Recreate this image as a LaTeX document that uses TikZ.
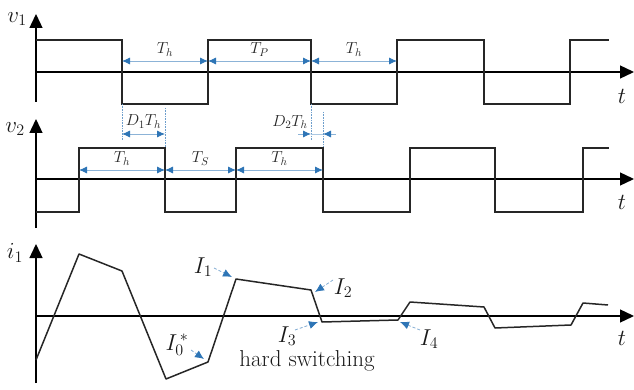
\documentclass[tikz,border=0pt]{standalone}
\usepackage{fix-cm}
\usepackage{amsmath,amssymb}
\usetikzlibrary{arrows.meta,positioning,calc}
\definecolor{dimblue}{RGB}{46,117,182}

\begin{document}
\begin{tikzpicture}[x=1pt,y=-1pt,>=Stealth,
  axis/.style={line width=1.3pt,-{Triangle[length=14pt,width=13pt]}},
  wave/.style={line width=1.5pt,black!85},
  dim/.style={dimblue!55,line width=0.8pt,{Latex[dimblue,length=8pt,width=7pt]}-{Latex[dimblue,length=8pt,width=7pt]}},
  tick/.style={dimblue!55,line width=0.8pt,-{Latex[dimblue,length=8pt,width=7pt]}},
  guide/.style={dimblue!70,densely dotted,line width=0.6pt},
  pointer/.style={dimblue!60,line width=0.8pt,densely dashed,-{Latex[dimblue,length=9pt,width=8pt]}},
  small/.style={text=black!85,font=\fontsize{16}{18}\selectfont},
  big/.style={text=black!90,font=\fontsize{23}{27}\selectfont}]
\useasboundingbox (0,0) rectangle (634,390);

% v1
\draw[axis] (36,102) -- (36,14);
\draw[axis] (36,72) -- (634,72);
\node[big] (v1) at (17,19) {$v_1$};
\node[big] (t1) at (622,96) {$t$};
\draw[wave] (36,40) -- (122,40) -- (122,104) -- (208,104) -- (208,40) -- (311,40) -- (311,104)
  -- (397,104) -- (397,40) -- (484,40) -- (484,104) -- (570,104) -- (570,40) -- (609,40);
\coordinate (a1) at (122,61);
\coordinate (a2) at (208,61);
\coordinate (a3) at (311,61);
\coordinate (a4) at (397,61);
\draw[dim] (a1) -- (a2) node[midway,above=1pt,small] (Th1) {$T_h$};
\draw[dim] (a2) -- (a3) node[midway,above=1pt,small] (Tp) {$T_P$};
\draw[dim] (a3) -- (a4) node[midway,above=1pt,small] (Th2) {$T_h$};

% phase shifts
\coordinate (d1) at (122,134);
\coordinate (d2) at (165,134);
\coordinate (e1) at (311,134);
\coordinate (e2) at (323,134);
\draw[guide] (122,104) -- ($(d1)+(0,6)$);
\draw[guide] (165,108) -- (165,148);
\draw[guide] (311,104) -- ($(e1)+(0,6)$);
\draw[guide] (323,112) -- (323,148);
\draw[dim] (d1) -- (d2) node[midway,above=2pt,small] (D1) {$D_1T_h$};
\draw[tick] ($(e1)+(-13,0)$) -- (e1);
\draw[tick] ($(e2)+(13,0)$) -- (e2);
\draw[dimblue!40,line width=0.5pt] (e1) -- (e2);
\node[small] (D2) at (290,122) {$D_2T_h$};

% v2
\draw[axis] (36,228) -- (36,119);
\draw[axis] (36,179) -- (634,179);
\node[big] (v2) at (15,129) {$v_2$};
\node[big] (t2) at (622,202) {$t$};
\draw[wave] (36,212) -- (79,212) -- (79,148) -- (165,148) -- (165,212) -- (236,212) -- (236,148)
  -- (323,148) -- (323,212) -- (410,212) -- (410,148) -- (495,148) -- (495,212) -- (583,212)
  -- (583,148) -- (609,148);
\coordinate (b1) at (79,170);
\coordinate (b2) at (165,170);
\coordinate (b3) at (236,170);
\coordinate (b4) at (323,170);
\draw[dim] (b1) -- (b2) node[midway,above=1pt,small] (Th3) {$T_h$};
\draw[dim] (b2) -- (b3) node[midway,above=1pt,small] (Ts) {$T_S$};
\draw[dim] (b3) -- (b4) node[midway,above=1pt,small] (Th4) {$T_h$};

% i1
\draw[axis] (36,383) -- (36,244);
\draw[axis] (36,316) -- (634,316);
\node[big] (i1) at (15,253) {$i_1$};
\node[big] (t3) at (622,338) {$t$};
\draw[wave,line join=round] (36,360) -- (79,254) -- (122,271) -- (166,379) -- (208,362) -- (236,279)
  -- (311,290) -- (322,322) -- (398,320) -- (410,302) -- (484,307) -- (495,328) -- (571,325)
  -- (583,303) -- (608,305);
\node[big] (I1) at (203,267) {$I_1$};
\node[big] (I2) at (343,288) {$I_2$};
\node[big] (I3) at (287,336) {$I_3$};
\node[big] (I4) at (429,339) {$I_4$};
\node[big] (I0) at (177,345) {$I_0^{\,*}$};
\coordinate (s1) at (214,268);  \coordinate (c1) at (232,277);
\coordinate (s2) at (333,280);  \coordinate (c2) at (315,292);
\coordinate (s3) at (295,330);  \coordinate (c3) at (318,322);
\coordinate (s4) at (420,330);  \coordinate (c4) at (400,322);
\coordinate (s0) at (191,350);  \coordinate (c0) at (204,359);
\draw[pointer] (s1) -- (c1);
\draw[pointer] (s2) -- (c2);
\draw[pointer] (s3) -- (c3);
\draw[pointer] (s4) -- (c4);
\draw[pointer] (s0) -- (c0);
\node[big] (hs) at (307,361) {hard switching};
\end{tikzpicture}
\end{document}
